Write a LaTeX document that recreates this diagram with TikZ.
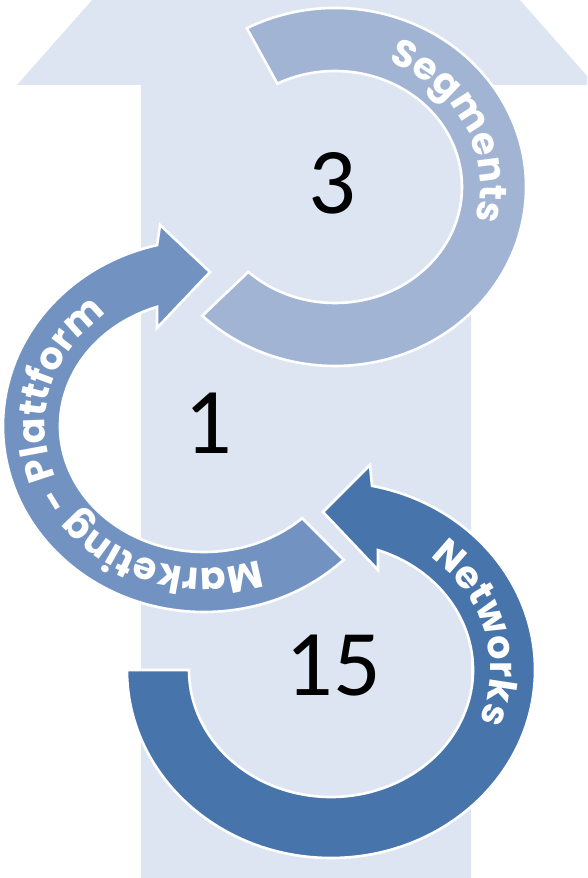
\documentclass[tikz,border=0pt]{standalone}
\usepackage{fontspec}
\usepackage{xcolor}
\usetikzlibrary{decorations.text}

\newfontfamily\numfont{Carlito}
\newfontfamily\lblfont{Poppins}

\definecolor{bgarrow}{RGB}{220,229,241}
\definecolor{segfill}{RGB}{161,180,212}
\definecolor{mktfill}{RGB}{114,147,193}
\definecolor{netfill}{RGB}{71,116,171}

\tikzset{
  band/.style={draw=white, line width=2.6pt, line join=miter},
  lbl/.style={decorate, decoration={text along path, text align=center, text color=white}},
  num/.style={font=\numfont\fontsize{94}{94}\selectfont, inner sep=0pt},
}
\newcommand{\lblfmt}{\lblfont\bfseries\fontsize{38}{38}\selectfont}

\begin{document}
\begin{tikzpicture}[x=1pt,y=1pt]
        \useasboundingbox (0,0) rectangle (587,878);
        \clip (0,0) rectangle (587,878);

        % big arrow behind everything
        \fill[bgarrow] (141,0) -- (141,793) -- (17,793) -- (306,1120) -- (595,793) -- (471,793) -- (471,0) -- cycle;

        \coordinate (seg) at (335,691);
        \coordinate (mkt) at (204,452);
        \coordinate (net) at (331,208);

        % segments
        \begin{scope}[shift={(seg)}]
            \filldraw[band, fill=segfill] (117.5:191 and 179) arc[start angle=117.5, end angle=-134, x radius=191, y radius=179]
                -- (-133:127 and 116) arc[start angle=-133, end angle=117, x radius=127, y radius=116] -- cycle;
            \path[lbl, decoration={text={|\lblfmt|Segments}}]
                (116:145 and 134) arc[start angle=116, end angle=-64, x radius=145, y radius=134];
        \end{scope}

        % marketing - plattform
        \begin{scope}[shift={(mkt)}]
            \filldraw[band, fill=mktfill] (-47:144 and 126) -- (-46:201 and 186)
                arc[start angle=-46, end angle=-256.5, x radius=201, y radius=186]
                -- (-44,201) -- (6,154) -- (-47,98)
                -- (-251:144 and 126) arc[start angle=-251, end angle=-47, x radius=144, y radius=126] -- cycle;
            \path[lbl, decoration={text={|\lblfmt|Marketing - Plattform}}]
                (-51:159 and 142) arc[start angle=-51, end angle=-251, x radius=159, y radius=142];
        \end{scope}

        % networks
        \begin{scope}[shift={(net)}]
            \filldraw[band, fill=netfill] (180:142 and 127) -- (180:204 and 188)
                arc[start angle=180, end angle=438.4, x radius=204, y radius=188]
                -- (39,205) -- (-8,158) -- (47,100)
                -- (430.7:142 and 127) arc[start angle=430.7, end angle=180, x radius=142, y radius=127] -- cycle;
            \path[lbl, decoration={text={|\lblfmt|Networks}}]
                (104.5:159 and 144) arc[start angle=104.5, end angle=-75.5, x radius=159, y radius=144];
        \end{scope}

        \node[num] (n3) at (332,695) {3};
        \node[num] (n1) at (208,455) {1};
        \node[num] (n15) at (333,212) {15};

    \end{tikzpicture}
\end{document}
